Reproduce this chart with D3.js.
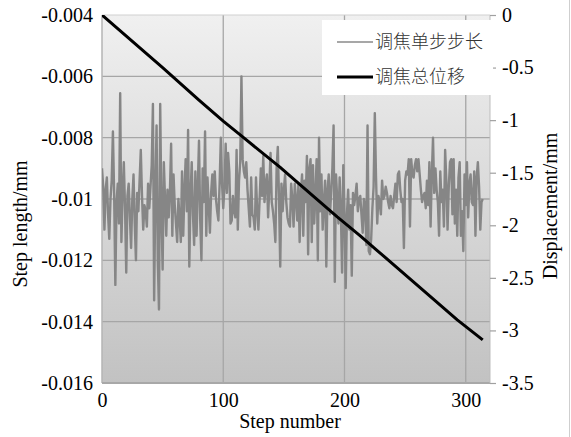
<!DOCTYPE html>
<html><head><meta charset="utf-8">
<script src="https://cdn.jsdelivr.net/npm/d3@7"></script>
<style>body{margin:0;background:#fff}svg{display:block}</style>
</head><body><svg id="c" width="571" height="437"></svg>
<script>
// Step length (mm) for step numbers 0..314
const stepLength = [
-0.0090,-0.0096,-0.0110,-0.0097,-0.0093,-0.0105,-0.0113,-0.0100,-0.0094,-0.0078,
-0.0098,-0.0128,-0.0101,-0.0095,-0.0108,-0.00655,-0.0114,-0.0098,-0.0088,-0.0103,
-0.0124,-0.0099,-0.0095,-0.0106,-0.0116,-0.0100,-0.0092,-0.0108,-0.0120,-0.0098,
-0.0104,-0.0094,-0.0084,-0.0099,-0.0110,-0.0102,-0.0104,-0.0109,-0.0095,-0.0103,
-0.0096,-0.0089,-0.0069,-0.0133,-0.0098,-0.0076,-0.0120,-0.0136,-0.0069,-0.0104,
-0.0123,-0.0088,-0.0100,-0.0112,-0.0097,-0.0106,
-0.0098,-0.0082,-0.0112,-0.0092,-0.0102,-0.0108,-0.0114,-0.0100,-0.0106,-0.0114,
-0.0091,-0.0112,-0.0097,-0.0087,-0.0104,-0.00775,-0.0122,-0.0099,-0.0088,-0.0105,
-0.0115,-0.0091,-0.0112,-0.0096,-0.0081,-0.0107,-0.0120,-0.0090,-0.0101,-0.0078,
-0.0112,-0.0093,-0.0102,-0.0111,-0.0098,-0.0092,-0.0099,-0.0091,-0.0100,-0.0104,
-0.0107,-0.0095,-0.0080,-0.0095,-0.0103,-0.0096,-0.0082,-0.0098,-0.0085,-0.0091,
-0.0108,
-0.0107,-0.0099,-0.0104,-0.0106,-0.0084,-0.0110,-0.0094,-0.0088,-0.0060,-0.0087,
-0.0091,-0.0093,-0.0088,-0.0097,-0.0103,-0.0109,-0.0093,-0.0105,-0.0106,-0.0110,
-0.0093,-0.0104,-0.0110,-0.0100,-0.0090,-0.0099,-0.0086,-0.0101,-0.0095,-0.0092,
-0.0106,-0.0096,-0.0085,-0.0101,-0.0104,-0.0108,-0.0114,-0.0090,-0.0083,-0.0100,
-0.0122,-0.0095,-0.0104,-0.0097,-0.0092,-0.0101,-0.0106,-0.0108,-0.0109,-0.0095,
-0.0100,-0.0109,-0.0095,-0.0100,
-0.0107,-0.0095,-0.0114,-0.0098,-0.0092,-0.0112,-0.0094,-0.0101,-0.0086,-0.0118,
-0.0090,-0.0087,-0.0114,-0.0089,-0.0108,-0.0099,-0.0087,-0.0120,-0.0080,-0.0104,
-0.0092,-0.0110,-0.0101,-0.0094,-0.0122,-0.0097,-0.0092,-0.0105,-0.0098,-0.0090,
-0.0076,-0.0127,-0.0092,-0.0100,-0.0108,-0.0093,-0.0104,-0.0124,-0.0089,-0.0105,
-0.0129,-0.0105,-0.0097,-0.0110,-0.0102,-0.0125,-0.0098,-0.0102,-0.0099,-0.0095,
-0.0104,-0.0100,-0.0099,-0.0105,
-0.0111,-0.0100,-0.0102,-0.0115,-0.0076,-0.0117,-0.0118,-0.0113,-0.0103,-0.0096,
-0.0072,-0.0093,-0.0108,-0.0099,-0.0101,-0.0105,-0.0094,-0.0100,-0.0099,-0.0096,
-0.0098,-0.0101,-0.0103,-0.0099,-0.0102,-0.0103,-0.0099,-0.0095,-0.0101,-0.0092,
-0.0091,-0.0097,-0.0101,-0.0100,-0.0116,-0.0094,-0.0091,-0.0092,-0.0087,-0.0109,
-0.0087,-0.0092,-0.0093,-0.0089,-0.0087,-0.0091,-0.0087,-0.0092,-0.0097,-0.0101,
-0.0099,-0.0098,-0.0103,
-0.0094,-0.0102,-0.0088,-0.0109,-0.0092,-0.0080,-0.0098,-0.0090,-0.0097,-0.0101,
-0.0112,-0.0091,-0.0101,-0.0097,-0.0109,-0.0084,-0.0094,-0.0110,-0.0096,-0.0088,
-0.0087,-0.0105,-0.0087,-0.0108,-0.0097,-0.0112,-0.0093,-0.0088,-0.0112,-0.0104,
-0.0117,-0.0092,-0.0102,-0.0088,-0.0106,-0.0095,-0.0092,-0.0101,-0.0102,-0.0091,
-0.0112,-0.0093,-0.0088,-0.0096,-0.0110,-0.0101,-0.0100
];
// Total displacement (mm) read at selected step numbers
const dispSteps  = [0, 50, 80, 100, 114, 147, 164, 194, 213, 227, 269, 293, 314];
const dispValues = [0, -0.50, -0.81, -1.01, -1.14, -1.45, -1.62, -1.92, -2.10, -2.24, -2.66, -2.90, -3.09];

const leftTicks  = [-0.004, -0.006, -0.008, -0.01, -0.012, -0.014, -0.016];
const leftLabels = ["-0.004", "-0.006", "-0.008", "-0.01", "-0.012", "-0.014", "-0.016"];
const rightTicks  = [0, -0.5, -1, -1.5, -2, -2.5, -3, -3.5];
const rightLabels = ["0", "-0.5", "-1", "-1.5", "-2", "-2.5", "-3", "-3.5"];
const xTicks = [0, 100, 200, 300];
const xDomain = [0, 320];
const legendLabels = ["调焦单步步长", "调焦总位移"];
const titles = { x: "Step number", yLeft: "Step length/mm", yRight: "Displacement/mm" };

const svg = d3.select("#c");
const L = 102, R = 490, T = 15, B = 383;
const serif = "'Liberation Serif','Times New Roman',serif";

const x = d3.scaleLinear().domain(xDomain).range([L, R]);
const yL = d3.scaleLinear().domain([-0.016, -0.004]).range([B, T]);
const yR = d3.scaleLinear().domain([-3.5, 0]).range([B, T]);

const defs = svg.append("defs");
const grad = defs.append("linearGradient").attr("id", "bg").attr("x1", 0).attr("y1", 0).attr("x2", 0).attr("y2", 1);
grad.append("stop").attr("offset", "0%").attr("stop-color", "#f0f0f0");
grad.append("stop").attr("offset", "100%").attr("stop-color", "#c2c2c2");
defs.append("clipPath").attr("id", "clip").append("rect").attr("x", L).attr("y", T).attr("width", R - L).attr("height", B - T);

// image right border
svg.append("line").attr("x1", 569.5).attr("x2", 569.5).attr("y1", 0).attr("y2", 437).attr("stroke", "#cfcfcf");

// plot background
svg.append("rect").attr("x", L).attr("y", T).attr("width", R - L).attr("height", B - T).attr("fill", "url(#bg)");

// gridlines
const grid = svg.append("g").attr("stroke", "#a6a6a6").attr("stroke-width", 1.3);
grid.selectAll("line.h").data(leftTicks.slice(1, -1)).join("line")
  .attr("x1", L).attr("x2", R).attr("y1", d => yL(d)).attr("y2", d => yL(d));
grid.selectAll("line.v").data(xTicks.slice(1)).join("line")
  .attr("y1", T).attr("y2", B).attr("x1", d => x(d)).attr("x2", d => x(d));

// plot frame
svg.append("line").attr("x1", L).attr("x2", L).attr("y1", T).attr("y2", B).attr("stroke", "#b4b4b4").attr("stroke-width", 1.5);
svg.append("line").attr("x1", L).attr("x2", R).attr("y1", B).attr("y2", B).attr("stroke", "#a8a8a8").attr("stroke-width", 2);
svg.append("line").attr("x1", R).attr("x2", R).attr("y1", T).attr("y2", B).attr("stroke", "#bdbdbd").attr("stroke-width", 1);
svg.append("line").attr("x1", L).attr("x2", R).attr("y1", T).attr("y2", T).attr("stroke", "#d0d0d0").attr("stroke-width", 1);

const plot = svg.append("g").attr("clip-path", "url(#clip)");
// step length series
plot.append("path")
  .datum(stepLength)
  .attr("fill", "none").attr("stroke", "#868686").attr("stroke-width", 2.4).attr("stroke-linejoin", "round")
  .attr("d", d3.line().x((d, i) => x(i)).y(d => yL(d)));
// displacement series
plot.append("path")
  .datum(dispSteps.map((s, i) => [s, dispValues[i]]))
  .attr("fill", "none").attr("stroke", "#000").attr("stroke-width", 3).attr("stroke-linejoin", "round")
  .attr("d", d3.line().x(d => x(d[0])).y(d => yR(d[1])));

// axes
const axL = svg.append("g").attr("transform", `translate(${L},0)`)
  .call(d3.axisLeft(yL).tickValues(leftTicks).tickFormat((d, i) => leftLabels[i]).tickSize(0).tickPadding(9));
const axR = svg.append("g").attr("transform", `translate(${R},0)`)
  .call(d3.axisRight(yR).tickValues(rightTicks).tickFormat((d, i) => rightLabels[i]).tickSize(6).tickPadding(6));
const axB = svg.append("g").attr("transform", `translate(0,${B})`)
  .call(d3.axisBottom(x).tickValues(xTicks).tickFormat(d => String(d)).tickSize(0).tickPadding(10));
[axL, axR, axB].forEach(a => {
  a.attr("font-family", null).attr("font-size", null);
  a.select(".domain").remove();
  a.selectAll("text").style("font-family", serif).style("font-size", "20px").attr("fill", "#000");
});
axR.selectAll(".tick line").attr("stroke", "#a0a0a0").attr("stroke-width", 1.2);

// titles
svg.append("text").attr("x", 290).attr("y", 428).attr("text-anchor", "middle")
  .style("font-family", serif).style("font-size", "20px").text(titles.x);
svg.append("text").attr("transform", "translate(27,224) rotate(-90)").attr("text-anchor", "middle")
  .style("font-family", serif).style("font-size", "20px").text(titles.yLeft);
svg.append("text").attr("transform", "translate(557,206) rotate(-90)").attr("text-anchor", "middle")
  .style("font-family", serif).style("font-size", "20px").text(titles.yRight);

// legend
const lg = svg.append("g");
lg.append("rect").attr("x", 322).attr("y", 20).attr("width", 171).attr("height", 75).attr("fill", "#fff");
const legendStyles = [{ c: "#8a8a8a", w: 1.6 }, { c: "#000", w: 3 }];
legendLabels.forEach((t, i) => {
  const yy = 42 + i * 35;
  lg.append("line").attr("x1", 337).attr("x2", 373).attr("y1", yy).attr("y2", yy)
    .attr("stroke", legendStyles[i].c).attr("stroke-width", legendStyles[i].w);
  lg.append("text").attr("x", 375).attr("y", yy).attr("dy", "0.36em")
    .style("font-family", "'Noto Sans CJK SC',sans-serif").style("font-weight", 300)
    .style("font-size", "18px").attr("fill", "#333").text(t);
});
</script></body></html>
